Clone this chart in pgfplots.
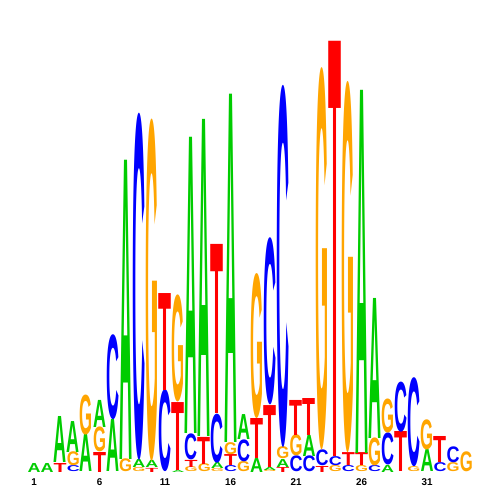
\documentclass[border=0pt]{standalone}
\usepackage{fontspec}
\setmainfont{Liberation Sans}
\usepackage{graphicx}
\usepackage{pgfplots}
\pgfplotsset{compat=1.18}
\definecolor{colA}{RGB}{0,204,0}
\definecolor{colC}{RGB}{0,0,255}
\definecolor{colG}{RGB}{255,165,0}
\definecolor{colT}{RGB}{255,0,0}
\begin{document}
\begin{tikzpicture}[x=1pt,y=1pt]
\fill[white] (0,0) rectangle (300,300);
\begin{axis}[at={(16.47pt,16.8pt)}, anchor=south west, scale only axis,
  width=267.24pt, height=258pt, xmin=0.5, xmax=34.5, ymin=0, ymax=2,
  clip=false, axis line style={draw=none}, major tick length=0pt,
  ytick=\empty, xtick={1,6,11,16,21,26,31}, xticklabels={1,6,11,16,21,26,31},
  xticklabel style={font=\fontsize{5.9}{6}\selectfont\bfseries, anchor=north, inner sep=0pt, yshift=-3.6pt}]
\addplot[only marks, mark=none,
  visualization depends on={\thisrow{h}*129 \as \hpt},
  visualization depends on={value \thisrow{l} \as \letter},
  nodes near coords={\resizebox*{7.8pt}{\hpt pt}{\bfseries\textcolor{col\letter}{\letter}}},
  every node near coord/.append style={anchor=south, inner sep=0pt, outer sep=0pt}]
table {
x y h l
1 0 0.042 A
2 0 0.042 A
3 0 0.042 T
3 0.042 0.214 A
4 0 0.028 C
4 0.028 0.065 G
4 0.093 0.144 A
5 0 0.172 A
5 0.172 0.186 G
6 0 0.093 T
6 0.093 0.116 G
6 0.209 0.126 A
7 0 0.242 A
7 0.242 0.395 C
8 0 0.060 G
8 0.060 1.391 A
9 0 0.019 G
9 0.019 0.037 A
9 0.056 1.614 C
10 0 0.019 T
10 0.019 0.033 A
10 0.051 1.591 G
11 0 0.381 C
11 0.381 0.451 T
12 0 0.009 A
12 0.009 0.316 T
12 0.326 0.498 G
13 0 0.023 G
13 0.023 0.033 T
13 0.056 0.121 C
13 0.177 1.377 A
14 0 0.037 G
14 0.037 0.126 T
14 0.163 1.474 A
15 0 0.014 G
15 0.014 0.028 A
15 0.042 0.228 C
15 0.270 0.786 T
16 0 0.028 C
16 0.028 0.051 T
16 0.079 0.056 G
16 0.135 1.619 A
17 0 0.047 G
17 0.047 0.102 C
17 0.149 0.116 A
18 0 0.065 A
18 0.065 0.186 T
18 0.251 0.674 G
19 0 0.009 G
19 0.009 0.014 A
19 0.023 0.288 T
19 0.312 0.777 C
20 0 0.023 T
20 0.023 0.037 A
20 0.060 0.056 G
20 0.116 1.684 C
21 0 0.074 C
21 0.074 0.098 G
21 0.172 0.163 T
22 0 0.074 C
22 0.074 0.098 A
22 0.172 0.172 T
23 0 0.028 T
23 0.028 0.074 C
23 0.102 1.777 G
24 0 0.028 G
24 0.028 0.042 C
24 0.070 1.930 T
25 0 0.028 C
25 0.028 0.060 T
25 0.088 1.726 G
26 0 0.028 G
26 0.028 0.060 T
26 0.088 1.688 A
27 0 0.028 C
27 0.028 0.130 G
27 0.158 0.651 A
28 0 0.033 A
28 0.033 0.149 C
28 0.181 0.158 G
29 0 0.186 T
29 0.186 0.233 C
30 0 0.023 G
30 0.023 0.414 C
31 0 0.102 A
31 0.102 0.140 G
32 0 0.042 C
32 0.042 0.121 T
33 0 0.042 G
33 0.042 0.074 C
34 0 0.093 G
};
\end{axis}
\end{tikzpicture}
\end{document}
